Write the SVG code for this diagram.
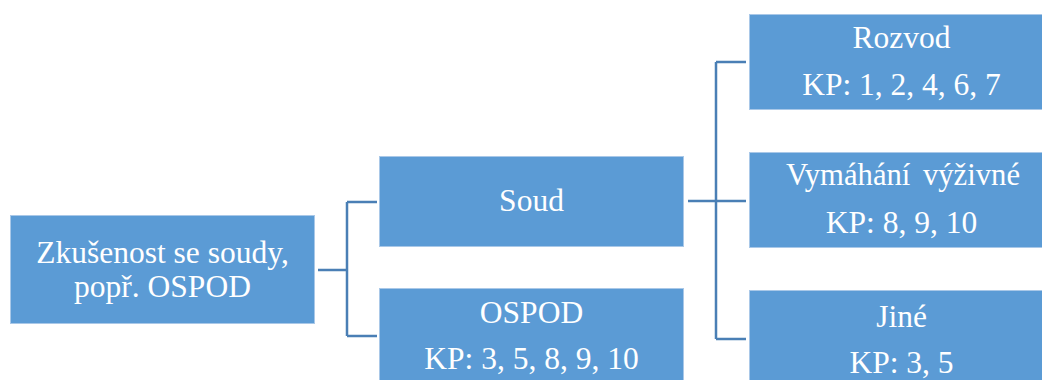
<svg xmlns="http://www.w3.org/2000/svg" width="1042" height="380" viewBox="0 0 1042 380">
<style>
.box{fill:#5b9bd5;stroke:#a9c8e8;stroke-width:1}
.t{font-family:'Liberation Serif','Times New Roman','DejaVu Serif',serif;font-size:31.5px;fill:#ffffff;text-anchor:middle}
.c{fill:none;stroke:#4a7fb5;stroke-width:2.5}
</style>
<rect width="1042" height="380" fill="#ffffff"/>
<g id="connectors">
<path class="c" d="M318,270H347M347,202V336M347,202H377M347,336H377"/>
<path class="c" d="M688,201H746M716,62V339M716,62H746M716,339H746"/>
</g>
<g id="root">
<rect class="box" x="10.5" y="215.5" width="304" height="108"/>
<text class="t" font-family="Liberation Serif, serif" x="162.5" y="263">Zkušenost se soudy,</text>
<text class="t" font-family="Liberation Serif, serif" x="162.5" y="296.5">popř. OSPOD</text>
</g>
<g id="soud">
<rect class="box" x="379.5" y="156.5" width="304" height="90"/>
<text class="t" x="531.5" y="211">Soud</text>
</g>
<g id="ospod">
<rect class="box" x="379.5" y="288.5" width="304" height="100"/>
<text class="t" x="531.5" y="323">OSPOD</text>
<text class="t" x="531.5" y="369">KP: 3, 5, 8, 9, 10</text>
</g>
<g id="rozvod">
<rect class="box" x="749.5" y="14.5" width="304" height="95"/>
<text class="t" x="901.5" y="48">Rozvod</text>
<text class="t" x="901.5" y="95">KP: 1, 2, 4, 6, 7</text>
</g>
<g id="vymahani">
<rect class="box" x="749.5" y="152.5" width="304" height="95"/>
<text class="t" x="903" y="185" word-spacing="5" textLength="234" lengthAdjust="spacingAndGlyphs">Vymáhání výživné</text>
<text class="t" x="901.5" y="233">KP: 8, 9, 10</text>
</g>
<g id="jine">
<rect class="box" x="749.5" y="290.5" width="304" height="100"/>
<text class="t" x="901.5" y="326.5">Jiné</text>
<text class="t" x="901.5" y="372.5">KP: 3, 5</text>
</g>
</svg>
